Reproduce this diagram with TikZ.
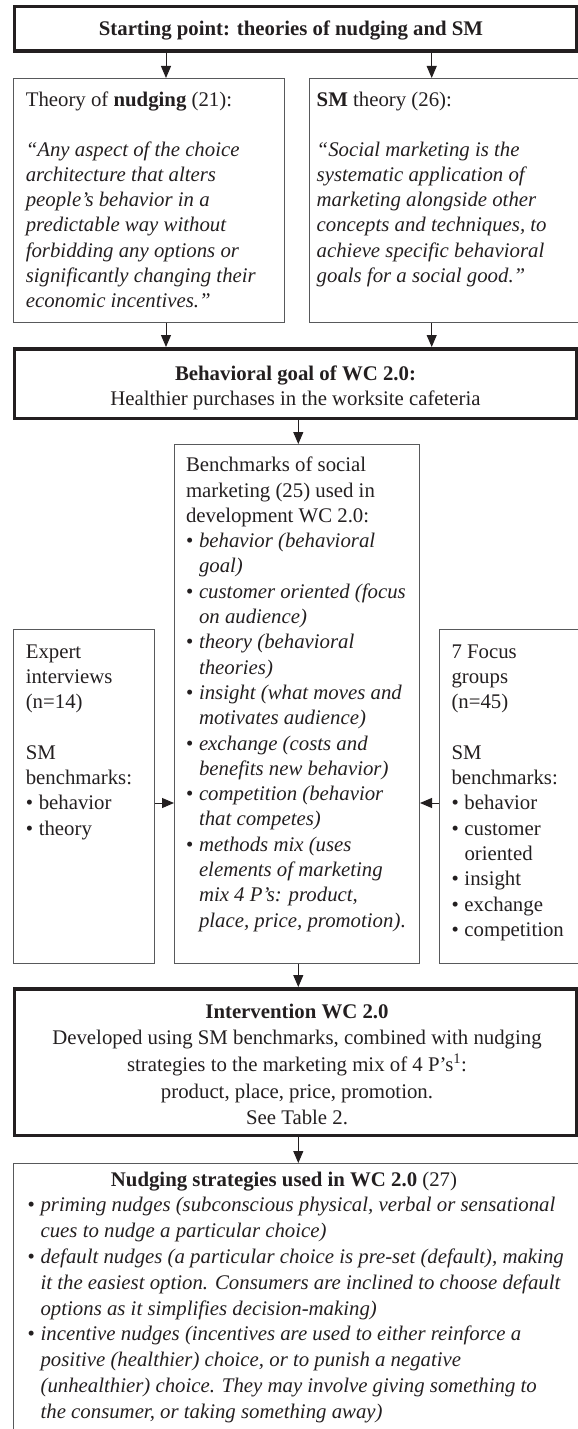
\documentclass[tikz,border=0pt]{standalone}
\usepackage{fontspec}
\setmainfont{Liberation Serif}
\usetikzlibrary{arrows.meta}
\definecolor{ink}{HTML}{231F20}
\definecolor{thin}{HTML}{58595B}
\newcommand{\bl}{\makebox[13pt][l]{\textbullet}}
\newcommand{\ind}{\hspace*{13pt}}
\newcommand{\fs}[1]{\fontsize{20.8}{#1}\selectfont}
\tikzset{
  thinbox/.style={draw=thin, line width=1pt, inner sep=0pt, anchor=north west},
  thickbox/.style={draw=ink, line width=3.5pt, inner sep=0pt, anchor=north west},
  txt/.style={inner sep=0pt, outer sep=0pt, text=ink},
  arr/.style={draw=ink, line width=1pt, -{Triangle[length=12pt,width=10pt]}}
}
\begin{document}
\begin{tikzpicture}[x=1pt,y=-1pt]
\useasboundingbox (0,0) rectangle (578,1429);
\clip (0,0) rectangle (578,1429);
% boxes
\node[thickbox, minimum width=562pt, minimum height=44.5pt] (start) at (12.5,5) {};
\node[thinbox, minimum width=271.5pt, minimum height=244pt] (nudgeTheory) at (12.5,78) {};
\node[thinbox, minimum width=330pt, minimum height=244pt] (smTheory) at (309,78) {};
\node[thickbox, minimum width=562pt, minimum height=69.5pt] (goal) at (12.5,347) {};
\node[thinbox, minimum width=245pt, minimum height=519pt] (bench) at (174,444) {};
\node[thinbox, minimum width=141pt, minimum height=334pt] (expert) at (13,629) {};
\node[thinbox, minimum width=200pt, minimum height=334pt] (focus) at (439,629) {};
\node[thickbox, minimum width=562pt, minimum height=146.5pt] (interv) at (12.5,987) {};
\node[thinbox, minimum width=627pt, minimum height=300pt] (nudgeStrat) at (12.5,1163) {};
% texts
\node[txt, anchor=base] (tStart) at (291,36) {\parbox[t]{560pt}{\centering\fs{25}
\textbf{Starting point: theories of nudging and SM}}};
\node[txt, anchor=base west] (tNudge) at (25.8,106) {\parbox[t]{300pt}{\raggedright\fs{25.2}
Theory of \textbf{nudging} (21):\\
\mbox{}\\
\textit{“Any aspect of the choice\\
architecture that alters\\
people’s behavior in a\\
predictable way without\\
forbidding any options or\\
significantly changing their\\
economic incentives.”}}};
\node[txt, anchor=base west] (tSM) at (316.7,106) {\parbox[t]{300pt}{\raggedright\fs{25.2}
\textbf{SM} theory (26):\\
\mbox{}\\
\textit{“Social marketing is the\\
systematic application of\\
marketing alongside other\\
concepts and techniques, to\\
achieve specific behavioral\\
goals for a social good.”}}};
\node[txt, anchor=base] (tGoal) at (295.5,380) {\parbox[t]{560pt}{\centering\fs{25}
\textbf{Behavioral goal of WC 2.0:}\\
Healthier purchases in the worksite cafeteria}};
\node[txt, anchor=base west] (tBench) at (186,471.7) {\parbox[t]{300pt}{\raggedright\fs{25.3}
Benchmarks of social\\
marketing (25) used in\\
development WC 2.0:\\
\bl\textit{behavior (behavioral}\\
\ind\textit{goal)}\\
\bl\textit{customer oriented (focus}\\
\ind\textit{on audience)}\\
\bl\textit{theory (behavioral}\\
\ind\textit{theories)}\\
\bl\textit{insight (what moves and}\\
\ind\textit{motivates audience)}\\
\bl\textit{exchange (costs and}\\
\ind\textit{benefits new behavior)}\\
\bl\textit{competition (behavior}\\
\ind\textit{that competes)}\\
\bl\textit{methods mix (uses}\\
\ind\textit{elements of marketing}\\
\ind\textit{mix 4 P’s: product,}\\
\ind\textit{place, price, promotion)}.}};
\node[txt, anchor=base west] (tExpert) at (25.8,658) {\parbox[t]{200pt}{\raggedright\fs{25.3}
Expert\\
interviews\\
(n=14)\\
\mbox{}\\
SM\\
benchmarks:\\
\bl behavior\\
\bl theory}};
\node[txt, anchor=base west] (tFocus) at (451.5,658) {\parbox[t]{200pt}{\raggedright\fs{25.3}
7 Focus\\
groups\\
(n=45)\\
\mbox{}\\
SM\\
benchmarks:\\
\bl behavior\\
\bl customer\\
\ind oriented\\
\bl insight\\
\bl exchange\\
\bl competition}};
\node[txt, anchor=base] (tInterv) at (297,1018) {\parbox[t]{560pt}{\centering\fs{26.7}
\textbf{Intervention WC 2.0}\\
Developed using SM benchmarks, combined with nudging\\
strategies to the marketing mix of 4 P’s\textsuperscript{1}:\\
product, place, price, promotion.\\
See Table 2.}};
\node[txt, anchor=base] (tStratTitle) at (284,1186) {\parbox[t]{560pt}{\centering\fs{25.8}
\textbf{Nudging strategies used in WC 2.0} (27)}};
\node[txt, anchor=base west] (tStrat) at (27.6,1211.8) {\parbox[t]{700pt}{\raggedright\fs{25.8}
\bl\textit{priming nudges (subconscious physical, verbal or sensational}\\
\ind\textit{cues to nudge a particular choice)}\\
\bl\textit{default nudges (a particular choice is pre-set (default), making}\\
\ind\textit{it the easiest option. Consumers are inclined to choose default}\\
\ind\textit{options as it simplifies decision-making)}\\
\bl\textit{incentive nudges (incentives are used to either reinforce a}\\
\ind\textit{positive (healthier) choice, or to punish a negative}\\
\ind\textit{(unhealthier) choice. They may involve giving something to}\\
\ind\textit{the consumer, or taking something away)}}};
% connectors
\coordinate (xa) at (166,0);
\coordinate (xb) at (431.7,0);
\coordinate (xc) at (298.3,0);
\coordinate (yh) at (0,803);
\draw[arr] (start.south -| xa) -- (nudgeTheory.north -| xa);
\draw[arr] (start.south -| xb) -- (smTheory.north -| xb);
\draw[arr] (nudgeTheory.south -| xa) -- (goal.north -| xa);
\draw[arr] (smTheory.south -| xb) -- (goal.north -| xb);
\draw[arr] (goal.south -| xc) -- (bench.north -| xc);
\draw[arr] (expert.east |- yh) -- (bench.west |- yh);
\draw[arr] (focus.west |- yh) -- (bench.east |- yh);
\draw[arr] (bench.south -| xc) -- (interv.north -| xc);
\draw[arr] (interv.south -| xc) -- (nudgeStrat.north -| xc);
\end{tikzpicture}
\end{document}
